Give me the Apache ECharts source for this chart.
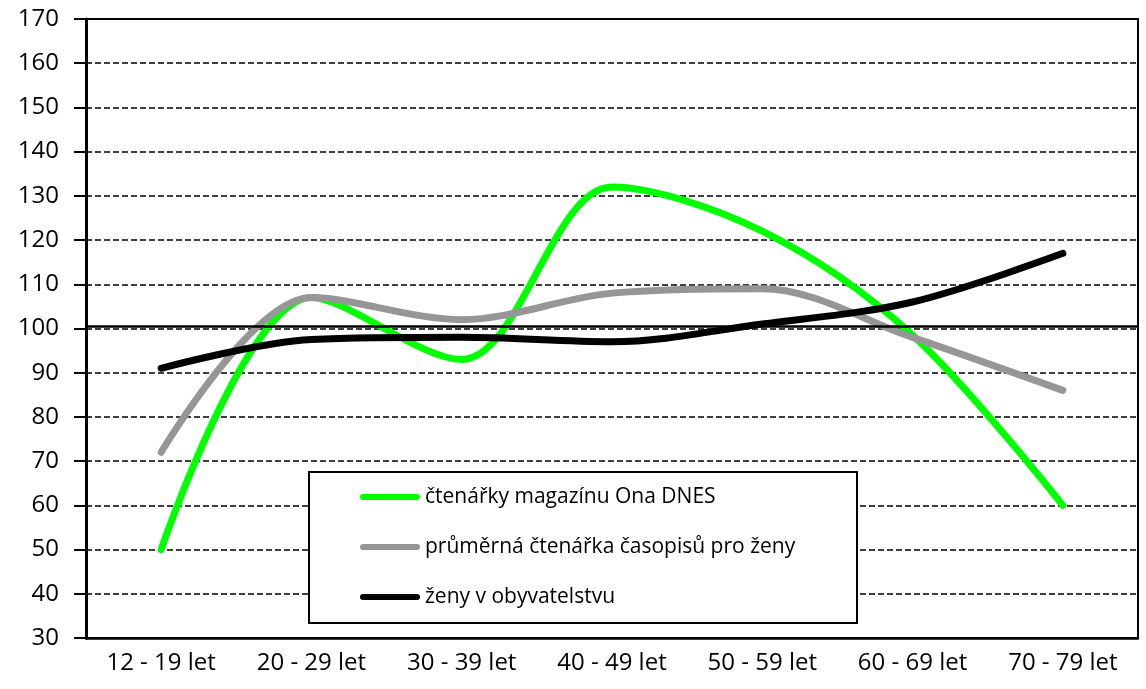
<!DOCTYPE html>
<html>
<head>
<meta charset="utf-8">
<title>Čtenářky</title>
<script src="https://cdn.jsdelivr.net/npm/echarts@6/dist/echarts.min.js"></script>
<style>
    html, body { margin: 0; padding: 0; background: #fff; }
    #chart { width: 1146px; height: 689px; }
</style>
</head>
<body>
<div id="chart"></div>
<script>
// data
var categories = ['12 - 19 let', '20 - 29 let', '30 - 39 let', '40 - 49 let', '50 - 59 let', '60 - 69 let', '70 - 79 let'];
var onaDnes = [50, 107, 93, 132, 122, 98.5, 60];
var prumerna = [72, 107, 102, 108, 109, 98, 86];
var obyvatelstvo = [91, 97.5, 98, 97, 101, 106, 117];
var seriesNames = ['čtenářky magazínu Ona DNES', 'průměrná čtenářka časopisů pro ženy', 'ženy v obyvatelstvu'];
var referenceLine = 100.6;

var FONT = '"Open Sans", "DejaVu Sans", sans-serif';
var capsule = 'path://M3,0 L57,0 A3,3 0 0 1 57,6 L3,6 A3,3 0 0 1 3,0 Z';

function lineSeries(name, data, color) {
    return {
        name: name,
        type: 'line',
        data: data,
        smooth: 0.33, // blizko excelovske krivce
        symbol: 'none',
        lineStyle: {
            color: color,
            width: 7,
            cap: 'round',
            join: 'round'
        },
        itemStyle: {
            color: color
        }
    };
}

function drawChart(divId) {
    var myChart = echarts.init(document.getElementById(divId));
    var black = lineSeries(seriesNames[2], obyvatelstvo, '#000000');
    // plna cara na 100
    black.markLine = {
        silent: true,
        symbol: 'none',
        label: { show: false },
        lineStyle: { color: '#000', width: 2.5, type: 'solid' },
        data: [{ yAxis: referenceLine }]
    };
    var option = {
        animation: false,
        backgroundColor: '#fff',
        textStyle: { fontFamily: FONT },
        grid: {
            left: 86,
            right: 8,
            top: 19,
            bottom: 51,
            show: true,
            borderColor: '#000',
            borderWidth: 2
        },
        legend: {
            orient: 'vertical',
            left: 360,
            top: 485,
            padding: 0,
            itemGap: 26,
            itemWidth: 60,
            itemHeight: 7,
            selectedMode: false,
            textStyle: {
                color: '#000',
                fontSize: 21,
                lineHeight: 24,
                fontFamily: FONT
            },
            data: [
                { name: seriesNames[0], icon: capsule },
                { name: seriesNames[1], icon: capsule },
                { name: seriesNames[2], icon: capsule }
            ]
        },
        graphic: [{
            type: 'rect',
            z: 3,
            shape: { x: 309, y: 472, width: 548, height: 151 },
            style: { fill: '#fff', stroke: '#000', lineWidth: 2 }
        }],
        xAxis: {
            type: 'category',
            data: categories,
            boundaryGap: true,
            axisLine: {
                lineStyle: { color: '#000', width: 2.5 }
            },
            axisTick: {
                length: 8,
                lineStyle: { color: '#000', width: 2 }
            },
            axisLabel: {
                color: '#000',
                fontSize: 24,
                margin: 13,
                interval: 0,
                fontFamily: FONT
            }
        },
        yAxis: {
            type: 'value',
            min: 30,
            max: 170,
            interval: 10,
            axisLine: {
                show: true,
                lineStyle: { color: '#000', width: 3 }
            },
            axisTick: {
                show: true,
                length: 12,
                lineStyle: { color: '#000', width: 2 }
            },
            axisLabel: {
                color: '#000',
                fontSize: 24,
                margin: 27,
                fontFamily: FONT
            },
            splitLine: {
                show: true,
                lineStyle: { color: '#000', width: 1.5, type: [6, 3] }
            }
        },
        series: [
            lineSeries(seriesNames[0], onaDnes, '#00ff00'),
            lineSeries(seriesNames[1], prumerna, '#969696'),
            black
        ]
    };
    myChart.clear();
    myChart.setOption(option);
    return myChart;
}

var myChart = drawChart('chart');
</script>
</body>
</html>
